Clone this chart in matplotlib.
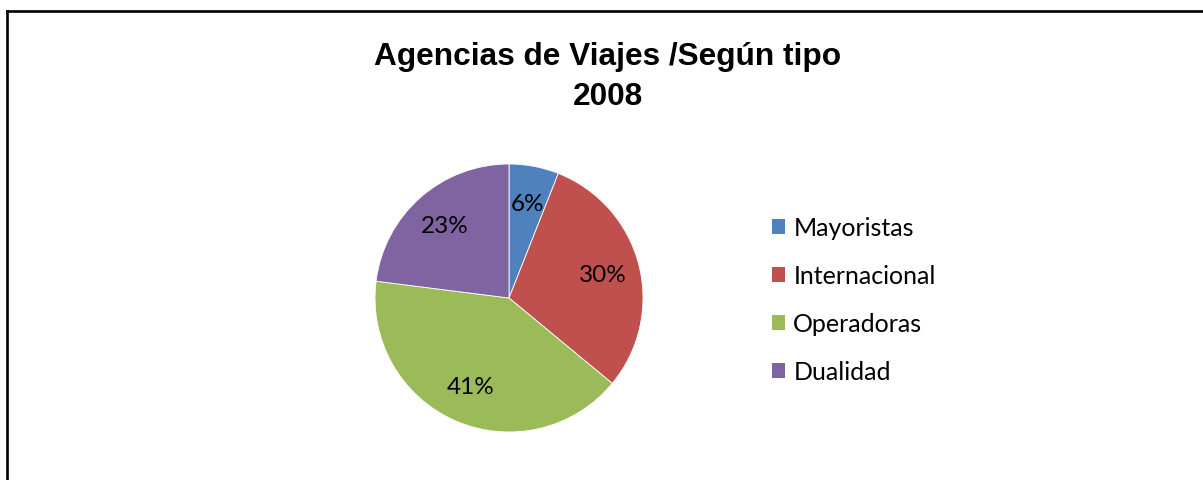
import matplotlib
matplotlib.use("Agg")
import matplotlib.pyplot as plt
from matplotlib.lines import Line2D
from matplotlib.patches import Patch

# tipos de agencia y porcentaje de cada uno (2008)
tipos = ["Mayoristas", "Internacional", "Operadoras", "Dualidad"]
porcentajes = [6, 30, 41, 23]
colores = ["#4F81BD", "#C0504D", "#9BBB59", "#8064A2"]

W, H = 1203, 481
fig = plt.figure(figsize=(W / 100, H / 100), dpi=100)

# marco del grafico
borde = dict(color="black", linewidth=1.9, solid_capstyle="projecting")
fig.add_artist(Line2D([7 / W, 7 / W], [1 - 12 / H, -0.01], **borde))
fig.add_artist(Line2D([7 / W, 1.01], [1 - 12 / H, 1 - 12 / H], **borde))

fig.text(608 / W, 1 - 42 / H, "Agencias de Viajes /Según tipo\n2008",
         ha="center", va="top", fontsize=22.8, fontweight="bold",
         family="Liberation Sans", linespacing=1.42)

# torta
cx, cy, r = 509, 299, 134
ax = fig.add_axes([(cx - r) / W, (H - cy - r) / H, 2 * r / W, 2 * r / H])
wedges, textos, pcts = ax.pie(
    porcentajes, colors=colores, startangle=90, counterclock=False,
    autopct=lambda p: "%d%%" % round(p), pctdistance=0.72,
    wedgeprops=dict(edgecolor="white", linewidth=0.6),
    textprops=dict(fontsize=17.5, family="Lato", color="black"))
ax.set_xlim(-1, 1)
ax.set_ylim(-1, 1)
ax.set_aspect("equal")
ax.axis("off")

handles = [Patch(facecolor=c, edgecolor="none") for c in colores]
fig.legend(handles, tipos, loc="center left",
           bbox_to_anchor=(749 / W, 1 - 301 / H), frameon=False,
           prop=dict(family="Lato", size=18),
           handlelength=0.52, handleheight=0.52, handletextpad=0.35,
           labelspacing=1.0)

fig.savefig("out.png", dpi=100)
